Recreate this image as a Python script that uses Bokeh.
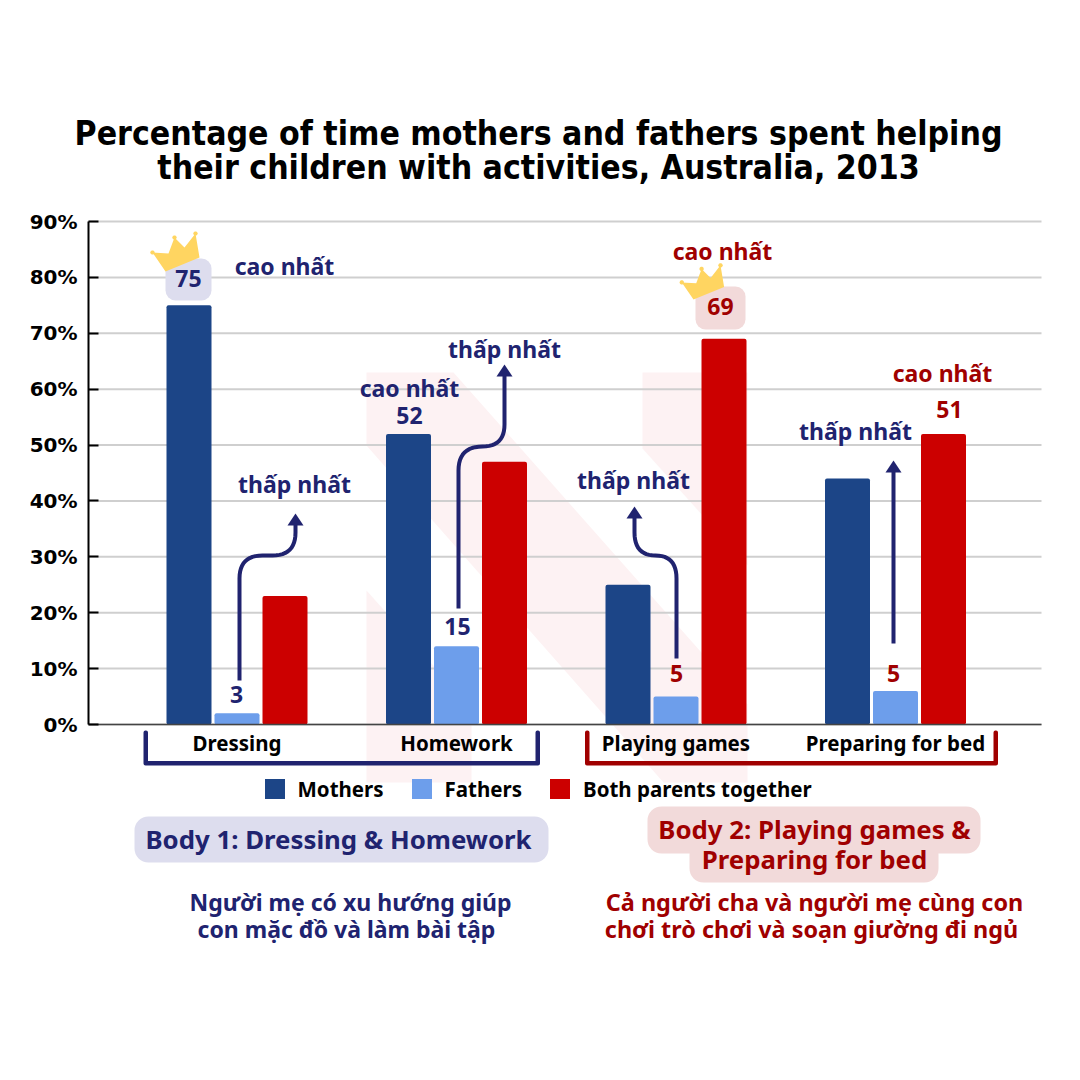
from bokeh.plotting import figure
from bokeh.models import (Label, BoxAnnotation, PolyAnnotation, Range1d, FixedTicker, Legend, LegendItem,
                          ColumnDataSource, PrintfTickFormatter, LinearAxis)
from bokeh.embed import file_html
from bokeh.resources import INLINE
import math

categories = ["Dressing", "Homework", "Playing games", "Preparing for bed"]
mothers = [75, 52, 25, 44]
fathers = [2, 14, 5, 6]
both = [23, 47, 69, 52]
y_ticks = [0, 10, 20, 30, 40, 50, 60, 70, 80, 90]

NAVY = "#20236F"
RED = "#A00000"
BODY = "Noto Sans"
W = H = 1072
L, R, T_, B = 88, 1041, 221, 724   # page px of the plot area


def X(px):
    return (px - 236.5) / 219.5


def Y(py):
    return (B - py) / (B - T_) * 90


p = figure(width=W, height=H, output_backend="svg", toolbar_location=None,
           x_range=Range1d(X(0), X(W)), y_range=Range1d(Y(H), Y(0)),
           min_border_left=0, min_border_right=0, min_border_top=0, min_border_bottom=0,
           x_axis_type=None, y_axis_type=None)
p.outline_line_color = None
p.background_fill_color = "white"
p.grid.visible = False

ax = LinearAxis(ticker=FixedTicker(ticks=list(range(len(categories)))), fixed_location=0, bounds=(X(L), X(R)))
ax.major_label_overrides = {i: c for i, c in enumerate(categories)}
ax.major_tick_line_color = None
ax.major_tick_in = 0
ax.major_tick_out = 0
ax.minor_tick_line_color = None
ax.axis_line_color = "#444444"
ax.axis_line_width = 1.5
ax.major_label_text_font = BODY
ax.major_label_text_font_style = "bold"
ax.major_label_text_font_size = "20.5px"
ax.major_label_text_color = "black"
ax.major_label_standoff = 4
p.add_layout(ax, "below")

ay = LinearAxis(ticker=FixedTicker(ticks=y_ticks), fixed_location=X(L), bounds=(0, 90))
ay.formatter = PrintfTickFormatter(format="%d%%")
ay.major_tick_in = 10
ay.major_tick_out = 0
ay.major_tick_line_color = "black"
ay.major_tick_line_width = 2
ay.minor_tick_line_color = None
ay.axis_line_color = "black"
ay.axis_line_width = 2
ay.major_label_text_font = "DejaVu Sans"
ay.major_label_text_font_style = "bold"
ay.major_label_text_font_size = "20px"
ay.major_label_text_color = "black"
ay.major_label_standoff = 11
p.add_layout(ay, "left")

p.segment(x0=[X(L)] * len(y_ticks), x1=[X(R)] * len(y_ticks), y0=y_ticks, y1=y_ticks,
          line_color="#CFCFCF", line_width=2, level="underlay")


def poly(pts, color, level="annotation", lw=0):
    p.add_layout(PolyAnnotation(xs=[a for a, b in pts], ys=[b for a, b in pts],
                                xs_units="canvas", ys_units="canvas",
                                fill_color=color, fill_alpha=1, line_color=color if lw else None,
                                line_alpha=1, line_width=lw, line_join="round", level=level))


def box(l, r, t, b, color, radius=0):
    p.add_layout(BoxAnnotation(left=l, right=r, top=t, bottom=b,
                               left_units="canvas", right_units="canvas", top_units="canvas", bottom_units="canvas",
                               fill_color=color, fill_alpha=1, line_color=None, border_radius=radius))


def text(x, y, s, size, color=NAVY, font=BODY, style="bold"):
    dy = 2 if font == BODY else 0
    p.add_layout(Label(x=x, y=y - dy, x_units="canvas", y_units="canvas", text=s,
                       text_font_size=f"{size}px", text_color=color, text_font=font, text_font_style=style,
                       text_align="center", text_baseline="middle"))


# faint background logo
PINK = "#FDF2F3"
poly([(366, 372), (453, 372), (747, 704), (747, 782), (663, 782), (366, 445)], PINK, "image")
poly([(642, 372), (747, 372), (747, 565), (642, 448)], PINK, "image")
poly([(366, 590), (471, 708), (471, 782), (366, 782)], PINK, "image")

# bars
step = 48 / 219.5
bw = 45 / 219.5
xs = list(range(len(categories)))
series = [("Mothers", mothers, "#1C4587", -step), ("Fathers", fathers, "#6D9EEB", 0), ("Both parents together", both, "#CC0000", step)]
items = []
for name, vals, col, off in series:
    src = ColumnDataSource(dict(x=[i + off for i in xs], top=vals))
    r = p.vbar(x="x", top="top", bottom=0, width=bw, source=src, fill_color=col, line_color=None, border_radius=2)
    items.append(LegendItem(label=name, renderers=[r]))

leg = Legend(items=items, orientation="horizontal", location=(261.5, H - 802.5), background_fill_alpha=0,
             border_line_color=None, glyph_width=25, glyph_height=25, label_standoff=11, spacing=25, padding=0, margin=0,
             label_text_font=BODY, label_text_font_style="bold", label_text_font_size="20.5px", label_text_color="black",
             label_height=25)
p.add_layout(leg, "center")


def arrow(pts, color=NAVY):
    """pts in page px: straight points and quadratic corners expanded to a polyline."""
    xs_, ys_ = [], []
    for q in pts:
        if len(q) == 2:
            xs_.append(q[0]); ys_.append(q[1])
        else:  # quadratic curve: control + end
            x0, y0 = xs_[-1], ys_[-1]
            for k in range(1, 13):
                t = k / 12
                xs_.append((1-t)**2*x0 + 2*(1-t)*t*q[0] + t*t*q[2])
                ys_.append((1-t)**2*y0 + 2*(1-t)*t*q[1] + t*t*q[3])
    p.line([X(a) for a in xs_], [Y(b) for b in ys_], line_color=color, line_width=4, line_join="round")
    tx, ty = xs_[-1], ys_[-1]
    poly([(tx - 8, ty + 1), (tx, ty - 11), (tx + 8, ty + 1)], color)


arrow([(239, 680), (239, 578), (239, 555, 262, 555), (272, 555), (295, 555, 295, 532), (295, 524)])
arrow([(458, 608), (458, 470), (458, 446, 482, 446), (504, 446, 504, 424), (504, 375)])
arrow([(676, 658), (676, 578), (676, 555, 655, 555), (634, 555, 634, 532), (634, 517)])
arrow([(893, 643), (893, 471)])

# value pills
box(165, 211, 258, 300, "#DDDDEE", 10)
box(695, 745, 286, 329, "#F2DADA", 10)


def crown(x0, y0, s):
    pts = [(165, 271), (152, 252), (168, 253), (174, 237), (184, 247), (195, 233), (199, 257)]
    pts = [(x0 + (a - 165) * s, y0 + (b - 271) * s) for a, b in pts]
    poly(pts, "#FFD561")
    for i in (1, 3, 5):
        cx, cy = pts[i]
        poly([(cx + 2.2 * math.cos(k * math.pi / 5), cy + 2.2 * math.sin(k * math.pi / 5)) for k in range(10)], "#FFD561")


crown(165, 271, 1.0)
crown(693, 299, 0.9)

# brackets
poly([(145, 732), (145.5, 732), (145.5, 762.5), (537, 762.5), (537, 732), (537.5, 732), (537.5, 763), (145, 763)], NAVY, lw=4)
poly([(586.5, 732), (587, 732), (587, 762.5), (995, 762.5), (995, 732), (995.5, 732), (995.5, 763), (586.5, 763)], RED, lw=4)

# body pills
box(134, 548, 816, 862, "#DDDDEE", 14)
box(689, 938, 840, 882, "#F2DADA", 14)
box(647, 980, 806, 853, "#F2DADA", 14)

text(538, 133, "Percentage of time mothers and fathers spent helping", 33.5, "black", "DejaVu Sans Condensed")
text(538, 167, "their children with activities, Australia, 2013", 33.5, "black", "DejaVu Sans Condensed")

text(284, 267, "cao nhất", 23)
text(188, 280, "75", 23)
text(409, 389, "cao nhất", 23)
text(409, 417, "52", 23)
text(457, 628, "15", 23)
text(236, 696, "3", 23)
text(294, 485, "thấp nhất", 23)
text(504, 350, "thấp nhất", 23)
text(633, 481, "thấp nhất", 23)
text(855, 432, "thấp nhất", 23)
text(722, 252, "cao nhất", 23, RED)
text(720, 308, "69", 23, RED)
text(942, 374, "cao nhất", 23, RED)
text(949, 411, "51", 23, RED)
text(676, 675, "5", 23, RED)
text(893, 675, "5", 23, RED)

text(338, 840, "Body 1: Dressing & Homework", 25.8)
text(814, 830, "Body 2: Playing games &", 25.8, RED)
text(814, 860, "Preparing for bed", 25.8, RED)
text(350, 903, "Người mẹ có xu hướng giúp", 23)
text(346, 930, "con mặc đồ và làm bài tập", 23)
text(814, 903, "Cả người cha và người mẹ cùng con", 23.4, RED)
text(811, 930, "chơi trò chơi và soạn giường đi ngủ", 23.4, RED)

open("out.html", "w").write(file_html(p, INLINE))
